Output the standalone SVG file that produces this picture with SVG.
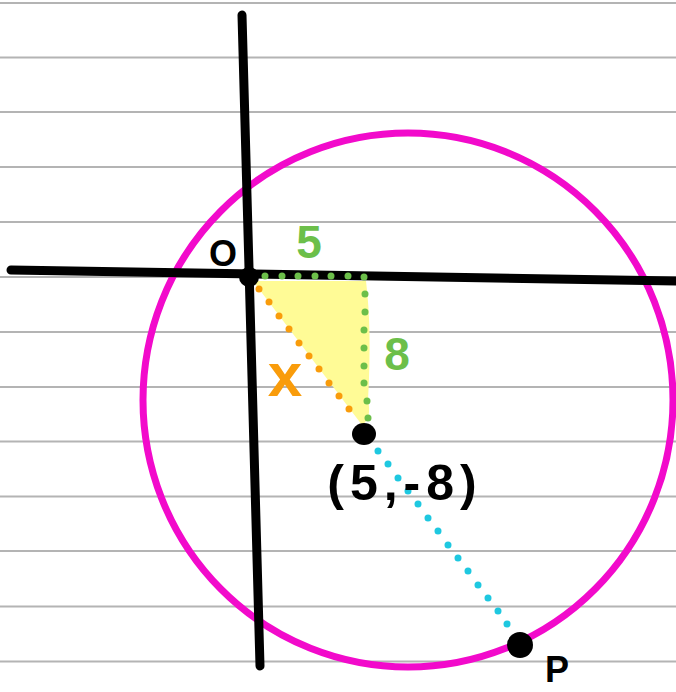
<svg xmlns="http://www.w3.org/2000/svg" width="676" height="692" viewBox="0 0 676 692">
<style>
.rule{stroke:#b4b4b4;stroke-width:2}
.axis{stroke:#000;stroke-width:9;stroke-linecap:round;fill:none}
.lbl{font-family:"Liberation Sans",Arial,sans-serif;font-weight:bold}
.gd{fill:#6cbf4a}
.od{fill:#f99c0b}
.cd{fill:#1ec8e0}
</style>
<rect width="676" height="692" fill="#fff"/>
<g id="rules">
<line class="rule" x1="0" y1="3" x2="676" y2="3"/>
<line class="rule" x1="0" y1="57.5" x2="676" y2="57.5"/>
<line class="rule" x1="0" y1="112" x2="676" y2="112"/>
<line class="rule" x1="0" y1="167" x2="676" y2="167"/>
<line class="rule" x1="0" y1="222" x2="676" y2="222"/>
<line class="rule" x1="0" y1="277" x2="676" y2="277"/>
<line class="rule" x1="0" y1="332" x2="676" y2="332"/>
<line class="rule" x1="0" y1="387" x2="676" y2="387"/>
<line class="rule" x1="0" y1="441.5" x2="676" y2="441.5"/>
<line class="rule" x1="0" y1="496.5" x2="676" y2="496.5"/>
<line class="rule" x1="0" y1="551" x2="676" y2="551"/>
<line class="rule" x1="0" y1="606.5" x2="676" y2="606.5"/>
<line class="rule" x1="0" y1="661.5" x2="676" y2="661.5"/>
</g>
<g id="triangle">
<path d="M256 281 L366 281 Q372 330 368 400 Q372 418 362 425 L256 285 Z" fill="#fffb96"/>
</g>
<g id="circle">
<ellipse cx="408" cy="400" rx="265" ry="267" fill="none" stroke="#f20acb" stroke-width="7"/>
</g>
<g id="axes">
<path class="axis" d="M242 15 L260 666"/>
<path class="axis" d="M11 270 L676 281"/>
</g>
<g id="connectors">
<g class="gd">
<circle cx="265" cy="276" r="3.5"/><circle cx="282" cy="276" r="3.5"/><circle cx="298" cy="276" r="3.5"/><circle cx="315" cy="276" r="3.5"/><circle cx="331" cy="276" r="3.5"/><circle cx="348" cy="276" r="3.5"/><circle cx="364" cy="277" r="3.5"/>
<circle cx="365" cy="294" r="3.5"/><circle cx="365" cy="312" r="3.5"/><circle cx="364" cy="330" r="3.5"/><circle cx="364" cy="348" r="3.5"/><circle cx="364" cy="366" r="3.5"/><circle cx="364" cy="383" r="3.5"/><circle cx="367" cy="401" r="3.5"/><circle cx="368" cy="418" r="3.5"/>
</g>
<g class="od">
<circle cx="259" cy="289" r="3.5"/><circle cx="269" cy="302" r="3.5"/><circle cx="279" cy="316" r="3.5"/><circle cx="289" cy="329" r="3.5"/><circle cx="299" cy="343" r="3.5"/><circle cx="309" cy="356" r="3.5"/><circle cx="319" cy="369" r="3.5"/><circle cx="329" cy="383" r="3.5"/><circle cx="339" cy="396" r="3.5"/><circle cx="349" cy="409" r="3.5"/>
</g>
<g class="cd">
<circle cx="378" cy="451" r="3.5"/><circle cx="388" cy="464" r="3.5"/><circle cx="398" cy="478" r="3.5"/><circle cx="408" cy="491" r="3.5"/><circle cx="418" cy="504" r="3.5"/><circle cx="428" cy="518" r="3.5"/><circle cx="438" cy="531" r="3.5"/><circle cx="448" cy="545" r="3.5"/><circle cx="458" cy="558" r="3.5"/><circle cx="468" cy="571" r="3.5"/><circle cx="478" cy="585" r="3.5"/><circle cx="488" cy="598" r="3.5"/><circle cx="498" cy="611" r="3.5"/><circle cx="507" cy="624" r="3.5"/>
</g>
</g>
<g id="O">
<circle cx="249" cy="277" r="10" fill="#000"/>
<text class="lbl" x="223" y="266" font-size="36" text-anchor="middle" fill="#000">O</text>
</g>
<g id="A">
<ellipse cx="364" cy="434" rx="12" ry="11" fill="#000"/>
<text class="lbl" x="405" y="500" font-size="50" letter-spacing="6" text-anchor="middle" fill="#000">(5,-8)</text>
</g>
<g id="P">
<circle cx="520" cy="645" r="13" fill="#000"/>
<text class="lbl" x="557" y="682" font-size="36" text-anchor="middle" fill="#000">P</text>
</g>
<text class="lbl" x="309" y="258" font-size="46" text-anchor="middle" fill="#6cbf4a">5</text>
<text class="lbl" x="397" y="370" font-size="46" text-anchor="middle" fill="#6cbf4a">8</text>
<text class="lbl" x="285" y="396" font-size="62" text-anchor="middle" fill="#f99c0b">x</text>
</svg>
